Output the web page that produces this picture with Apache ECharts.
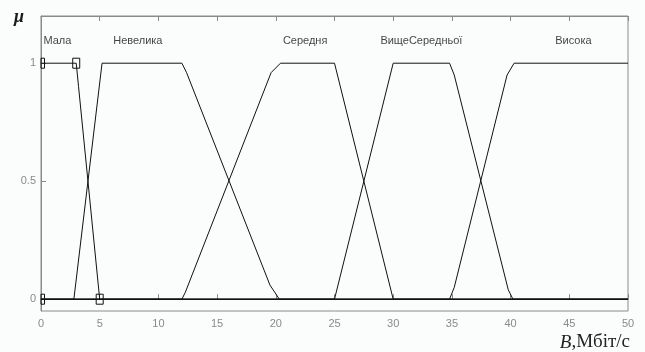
<!DOCTYPE html>
<html>
<head>
<meta charset="utf-8">
<script src="https://cdn.jsdelivr.net/npm/echarts@6/dist/echarts.min.js"></script>
<style>
html,body{margin:0;padding:0;background:#fbfcfc;}
#c{width:645px;height:352px;}
</style>
</head>
<body>
<div id="c"></div>
<script>
// membership function names
const mfNames = ['Мала', 'Невелика', 'Середня', 'ВищеСередньої', 'Висока'];
// membership function points [x, mu]
const mala = [[0,1],[3,1],[3.2,0.9],[5,0],[50,0]];
const nevelyka = [[0,0],[2.8,0],[5.2,1],[12,1],[12.4,0.96],[19.5,0.06],[20.3,0],[50,0]];
const serednia = [[0,0],[12,0],[12.3,0.03],[19.6,0.96],[20.4,1],[25,1],[30,0],[50,0]];
const vyshcheSerednoi = [[0,0],[25,0],[30,1],[34.8,1],[35.2,0.95],[39.8,0.04],[40.2,0],[50,0]];
const vysoka = [[0,0],[34.8,0],[35.2,0.05],[39.7,0.95],[40.3,1],[50,1]];
// selected vertices markers
const markerPts = [[0,1],[3,1],[0,0],[5,0]];
// label positions (data coords)
const labelX = [1.4, 8.25, 22.5, 32.4, 45.35];
const labelY = [1.093, 1.093, 1.093, 1.093, 1.093];
// tick values
const xTicks = [0,5,10,15,20,25,30,35,40,45,50];
const yTicks = [0, 0.5, 1];

const chart = echarts.init(document.getElementById('c'));
const mfData = [mala, nevelyka, serednia, vyshcheSerednoi, vysoka];
const lineSeries = mfData.map((d, i) => ({
  type: 'line', name: mfNames[i], data: d, showSymbol: false, symbol: 'none',
  lineStyle: { color: '#111', width: 1 }, silent: true, animation: false
}));
const labelData = mfNames.map((n, i) => ({ name: n, value: [labelX[i], labelY[i]] }));

chart.setOption({
  backgroundColor: '#fbfcfc',
  animation: false,
  grid: { left: 41, right: 17, top: 16, bottom: 41, show: true, borderColor: '#8a8a8a', borderWidth: 1 },
  xAxis: [{
    type: 'value', min: 0, max: 50, interval: 5,
    axisLine: { show: true, lineStyle: { color: '#8a8a8a' } },
    axisTick: { show: true, inside: true, length: 5, lineStyle: { color: '#8a8a8a' }, customValues: xTicks },
    axisLabel: { color: '#8a8a8a', fontFamily: 'Liberation Sans, Arial', fontSize: 11, margin: 7, customValues: xTicks },
    splitLine: { show: false }
  }, {
    type: 'value', position: 'top', min: 0, max: 50, interval: 5,
    axisLine: { show: true, lineStyle: { color: '#8a8a8a' } },
    axisTick: { show: true, inside: true, length: 5, lineStyle: { color: '#8a8a8a' }, customValues: xTicks },
    axisLabel: { show: false },
    splitLine: { show: false }
  }],
  yAxis: {
    type: 'value', min: -0.05, max: 1.2,
    axisLine: { show: true, lineStyle: { color: '#8a8a8a' } },
    axisTick: { show: true, inside: true, length: 5, lineStyle: { color: '#8a8a8a' }, customValues: yTicks },
    axisLabel: { color: '#8a8a8a', fontFamily: 'Liberation Sans, Arial', fontSize: 11, margin: 5, customValues: yTicks },
    splitLine: { show: false }
  },
  series: lineSeries.concat([
    {
      type: 'custom', data: markerPts, silent: true, animation: false, z: 5,
      renderItem: function (params, api) {
        const c = api.coord([api.value(0), api.value(1)]);
        const cs = params.coordSys;
        const shape = echarts.graphic.clipRectByRect(
          { x: c[0] - 3.5, y: c[1] - 5, width: 7, height: 10 },
          { x: cs.x, y: cs.y - 20, width: cs.width, height: cs.height + 40 });
        return shape && {
          type: 'rect', shape: shape,
          style: { fill: 'rgba(255,255,255,0)', stroke: '#111', lineWidth: 1 }
        };
      }
    },
    {
      type: 'scatter', data: labelData, symbolSize: 0, silent: true, animation: false,
      label: { show: true, position: 'inside', formatter: p => p.name, color: '#111',
        fontFamily: 'Liberation Sans, Arial', fontSize: 11 }
    }
  ]),
  graphic: [
    { type: 'text', left: 14, top: 8, style: { text: 'μ', font: 'italic bold 18px "Liberation Serif", serif', fill: '#1a1a1a' } },
    { type: 'text', right: 15, top: 333, style: {
      text: '{i|B}{n|,Мбіт/с}',
      rich: {
        i: { font: 'italic 19px "Liberation Serif", serif', fill: '#222' },
        n: { font: '19px "Liberation Serif", serif', fill: '#222' }
      } } }
  ]
});
</script>
</body>
</html>
